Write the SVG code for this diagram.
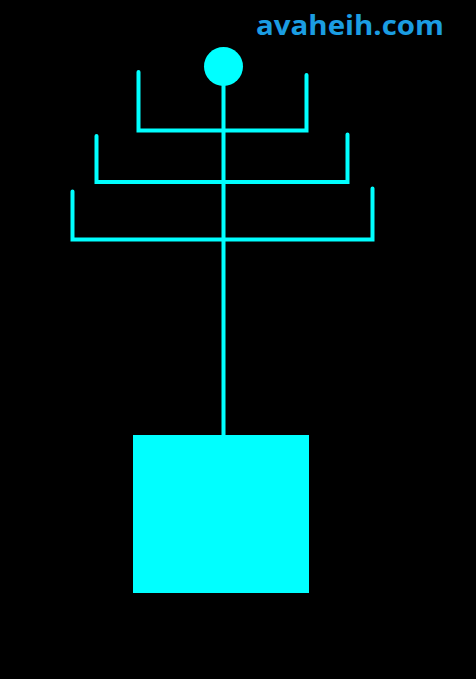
<svg xmlns="http://www.w3.org/2000/svg" width="476" height="679" viewBox="0 0 476 679">
<style>
.ln{fill:none;stroke:#00FFFF;stroke-width:4;stroke-linecap:round;stroke-linejoin:miter}
.fill{fill:#00FFFF}
.wm{font-family:"Open Sans","DejaVu Sans",sans-serif;font-weight:bold;font-size:26px;fill:#1B9DE2}
</style>
<rect width="476" height="679" fill="#000"/>
<g id="connectors">
<line class="ln" x1="223.5" y1="80" x2="223.5" y2="437" stroke-linecap="butt"/>
<polyline class="ln" points="138.5,72 138.5,130.5 306.5,130.5 306.5,75"/>
<polyline class="ln" points="96.5,136 96.5,182 347.5,182 347.5,134.5"/>
<polyline class="ln" points="72.5,191.5 72.5,239.5 372.5,239.5 372.5,188.5"/>
</g>
<g id="top-node"><circle class="fill" cx="223.5" cy="66.5" r="19.5"/></g>
<g id="base-node"><rect class="fill" x="133" y="435" width="176" height="158"/></g>
<g id="watermark"><text class="wm" x="256" y="35" textLength="188" lengthAdjust="spacingAndGlyphs">avaheih.com</text></g>
</svg>
